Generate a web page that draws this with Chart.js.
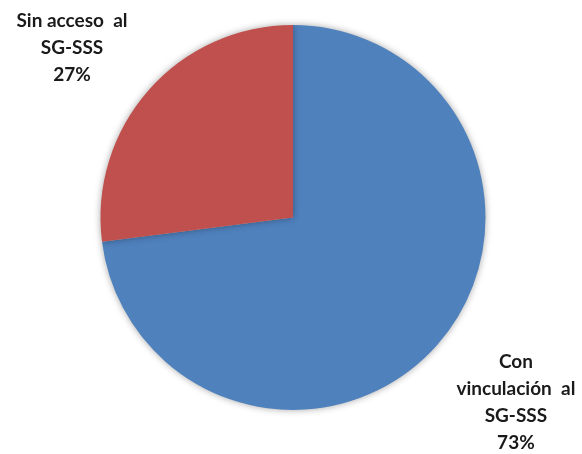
<!DOCTYPE html>
<html><head><meta charset="utf-8">
<script src="https://cdn.jsdelivr.net/npm/chart.js@4/dist/chart.umd.min.js"></script>
<style>html,body{margin:0;padding:0;background:#fff}#wrap{width:582px;height:454px}</style>
</head><body><div id="wrap"><canvas id="c" width="582" height="454"></canvas></div>
<script>
const categories = ["Con vinculación al SG-SSS", "Sin acceso al SG-SSS"];
const labelLines = [["Con", "vinculación  al", "SG-SSS"], ["Sin acceso  al", "SG-SSS"]];
const values = [73, 27];
const colors = ["#4F81BD", "#C0504D"];

const shadowPlugin = {
  id: 'shadow',
  beforeDatasetDraw(chart) {
    const ctx = chart.ctx;
    ctx.save();
    ctx.shadowColor = 'rgba(0,0,0,0.35)';
    ctx.shadowBlur = 7;
    ctx.shadowOffsetX = 0;
    ctx.shadowOffsetY = 0;
  },
  afterDatasetDraw(chart) { chart.ctx.restore(); }
};

// label centre offsets, in units of the pie radius
const labelOffsets = [[1.158, 0.961], [-1.148, -0.881]];

const labelPlugin = {
  id: 'outLabels',
  afterDraw(chart) {
    const ctx = chart.ctx;
    const meta = chart.getDatasetMeta(0);
    const total = values.reduce((a, b) => a + b, 0);
    ctx.save();
    ctx.font = 'bold 19px Lato';
    ctx.fillStyle = '#1a1a1a';
    ctx.textAlign = 'center';
    ctx.textBaseline = 'middle';
    meta.data.forEach((arc, i) => {
      const p = arc.getProps(['x', 'y', 'outerRadius'], true);
      const cx = p.x + labelOffsets[i][0] * p.outerRadius;
      const cy = p.y + labelOffsets[i][1] * p.outerRadius;
      const lines = labelLines[i].concat([Math.round(values[i] / total * 100) + '%']);
      const lh = 27;
      const y0 = cy - (lines.length - 1) * lh / 2;
      lines.forEach((t, k) => ctx.fillText(t, cx, y0 + k * lh));
    });
    ctx.restore();
  }
};

new Chart(document.getElementById('c'), {
  type: 'pie',
  data: { labels: categories, datasets: [{ data: values, backgroundColor: colors, borderWidth: 0 }] },
  options: {
    responsive: false,
    animation: false,
    layout: { padding: { top: 25, bottom: 44, left: 100, right: 96 } },
    plugins: { legend: { display: false }, tooltip: { enabled: false } }
  },
  plugins: [shadowPlugin, labelPlugin]
});
</script></body></html>
